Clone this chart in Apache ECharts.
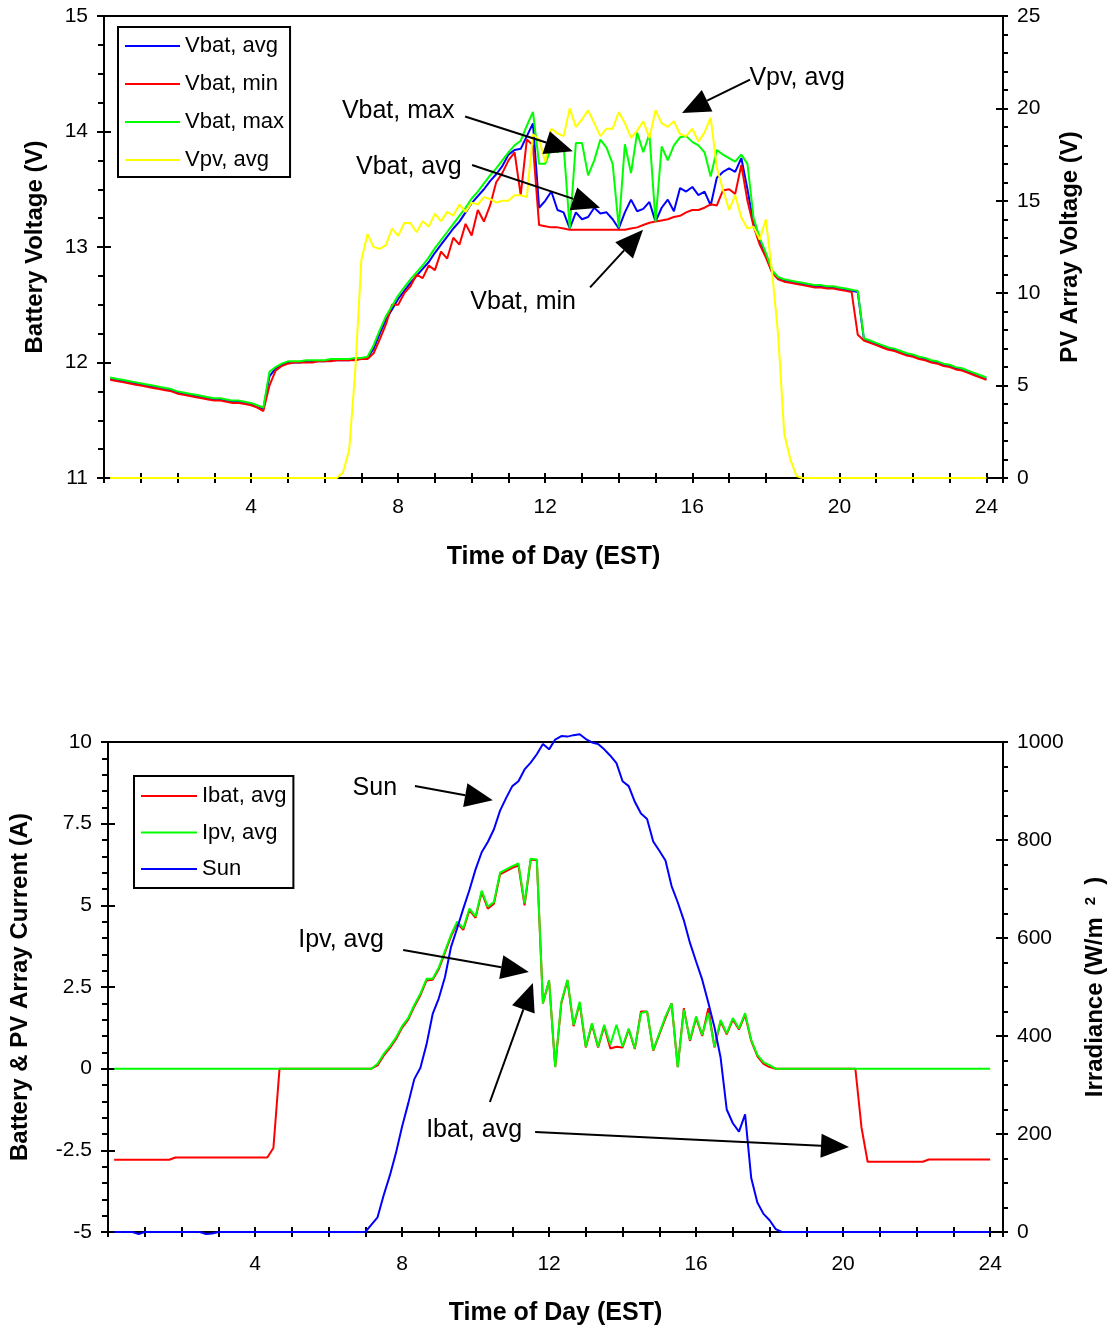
<!DOCTYPE html>
<html>
<head>
<meta charset="utf-8">
<script src="https://cdn.jsdelivr.net/npm/echarts@6/dist/echarts.min.js"></script>
<style>html,body{margin:0;padding:0;background:#fff}#c{width:1119px;height:1329px}</style>
</head>
<body>
<div id="c"></div>
<script>
// sample times: every 10 minutes, 0:10 .. 24:00
const times = Array.from({length: 144}, (_, i) => (i + 1) / 6);
const xTickLabels = [4, 8, 12, 16, 20, 24];

// ---- top chart (V) ----
const vbatAvg = [
 11.86,11.85,11.84,11.83,11.82,11.81,
 11.80,11.79,11.78,11.77,11.76,11.74,
 11.73,11.72,11.71,11.70,11.69,11.68,
 11.68,11.67,11.66,11.66,11.65,11.64,
 11.62,11.60,11.88,11.95,11.98,12.00,
 12.00,12.00,12.01,12.01,12.01,12.01,
 12.02,12.02,12.02,12.02,12.03,12.03,
 12.04,12.12,12.25,12.37,12.46,12.55,
 12.62,12.69,12.75,12.81,12.87,12.95,
 13.02,13.09,13.16,13.22,13.30,13.38,
 13.44,13.50,13.57,13.63,13.70,13.80,
 13.84,13.85,13.96,14.07,13.34,13.40,
 13.48,13.32,13.30,13.16,13.30,13.24,
 13.26,13.34,13.29,13.30,13.24,13.16,
 13.30,13.41,13.31,13.33,13.39,13.22,
 13.34,13.41,13.31,13.51,13.48,13.52,
 13.45,13.48,13.36,13.60,13.65,13.68,
 13.65,13.77,13.50,13.20,13.06,12.93,
 12.79,12.73,12.71,12.70,12.69,12.68,
 12.67,12.66,12.66,12.65,12.65,12.64,
 12.63,12.62,12.61,12.20,12.18,12.16,
 12.14,12.12,12.11,12.09,12.07,12.06,
 12.04,12.03,12.01,12.00,11.98,11.97,
 11.95,11.94,11.92,11.90,11.88,11.86
];
const vbatMin = [
 11.85,11.84,11.83,11.82,11.81,11.80,
 11.79,11.78,11.77,11.76,11.75,11.73,
 11.72,11.71,11.70,11.69,11.68,11.67,
 11.67,11.66,11.65,11.65,11.64,11.63,
 11.61,11.58,11.80,11.93,11.97,11.99,
 12.00,12.00,12.00,12.00,12.01,12.01,
 12.01,12.02,12.02,12.02,12.02,12.03,
 12.03,12.08,12.20,12.33,12.50,12.50,
 12.60,12.66,12.76,12.73,12.84,12.80,
 12.96,12.90,13.08,13.02,13.20,13.10,
 13.32,13.22,13.36,13.56,13.64,13.75,
 13.82,13.45,13.93,13.88,13.19,13.18,
 13.17,13.17,13.16,13.15,13.15,13.15,
 13.15,13.15,13.15,13.15,13.15,13.15,
 13.15,13.16,13.17,13.19,13.21,13.22,
 13.23,13.24,13.26,13.27,13.30,13.32,
 13.32,13.34,13.37,13.36,13.49,13.50,
 13.46,13.71,13.40,13.18,13.02,12.91,
 12.78,12.72,12.70,12.69,12.68,12.67,
 12.66,12.65,12.65,12.64,12.64,12.63,
 12.62,12.61,12.24,12.19,12.17,12.15,
 12.13,12.11,12.10,12.08,12.06,12.05,
 12.03,12.02,12.00,11.99,11.97,11.96,
 11.94,11.93,11.91,11.89,11.87,11.85
];
const vbatMax = [
 11.87,11.86,11.85,11.84,11.83,11.82,
 11.81,11.80,11.79,11.78,11.77,11.75,
 11.74,11.73,11.72,11.71,11.70,11.69,
 11.69,11.68,11.67,11.67,11.66,11.65,
 11.63,11.61,11.92,11.96,11.99,12.01,
 12.01,12.01,12.02,12.02,12.02,12.02,
 12.03,12.03,12.03,12.03,12.04,12.04,
 12.05,12.15,12.28,12.40,12.49,12.58,
 12.65,12.72,12.78,12.84,12.91,12.99,
 13.06,13.13,13.20,13.27,13.34,13.42,
 13.48,13.55,13.62,13.68,13.75,13.82,
 13.88,13.92,14.05,14.17,13.72,13.72,
 13.86,13.82,13.88,13.16,13.90,13.90,
 13.62,13.75,13.93,13.86,13.72,13.17,
 13.89,13.64,13.99,13.82,13.98,13.22,
 13.87,13.75,13.88,13.95,13.96,13.91,
 13.88,13.82,13.61,13.84,13.80,13.77,
 13.74,13.80,13.72,13.25,13.08,12.95,
 12.80,12.74,12.72,12.71,12.70,12.69,
 12.68,12.67,12.67,12.66,12.66,12.65,
 12.64,12.63,12.62,12.21,12.19,12.17,
 12.15,12.13,12.12,12.10,12.08,12.07,
 12.05,12.04,12.02,12.01,11.99,11.98,
 11.96,11.95,11.93,11.91,11.89,11.87
];
const vpvAvg = [
 0,0,0,0,0,0, 0,0,0,0,0,0, 0,0,0,0,0,0,
 0,0,0,0,0,0, 0,0,0,0,0,0, 0,0,0,0,0,0,
 0,0,0.3,1.5,5.8,11.8,
 13.2,12.5,12.4,12.6,13.5,13.1,
 13.8,13.8,13.3,13.9,13.6,14.3,
 13.9,14.4,14.2,14.8,14.4,14.9,
 14.8,15.2,15.1,14.9,15.0,15.0,
 15.3,15.3,15.2,18.6,18.3,17.1,
 18.9,18.65,18.5,20.0,19.0,19.4,
 19.9,19.2,18.5,18.9,18.9,19.8,
 19.2,18.4,18.8,19.3,18.4,19.9,
 19.2,19.0,19.3,18.6,18.5,18.9,
 18.2,18.7,19.5,16.8,15.6,14.5,
 15.3,14.1,13.5,13.6,12.9,14.0,
 11.2,7.8,2.4,1.0,0.1,0,
 0,0,0,0,0,0, 0,0,0,0,0,0, 0,0,0,0,0,0,
 0,0,0,0,0,0, 0,0,0,0,0,0
];

// ---- bottom chart (A, W/m2) ----
const ibatAvg = [
 -2.79,-2.79,-2.79,-2.79,-2.79,-2.79,
 -2.79,-2.79,-2.79,-2.79,-2.72,-2.72,
 -2.72,-2.72,-2.72,-2.72,-2.72,-2.72,
 -2.72,-2.72,-2.72,-2.72,-2.72,-2.72,
 -2.72,-2.72,-2.43,0,0,0,
 0,0,0,0,0,0,
 0,0,0,0,0,0,
 0.0,0.1,0.4,0.63,0.9,1.25,
 1.5,1.9,2.25,2.7,2.72,3.05,
 3.55,4.05,4.45,4.25,4.85,4.62,
 5.4,4.9,5.05,5.95,6.05,6.15,
 6.22,5.0,6.4,6.38,2.0,2.7,
 0.05,2.0,2.7,1.3,2.0,0.65,
 1.35,0.65,1.3,0.62,0.67,0.65,
 1.2,0.6,1.75,1.75,0.55,1.05,
 1.55,2.0,0.05,1.85,0.85,1.55,
 1.0,1.85,0.65,1.45,1.05,1.5,
 1.2,1.65,0.85,0.38,0.15,0.05,
 0,0,0,0,0,0,
 0,0,0,0,0,0,
 0,0,-1.8,-2.85,-2.85,-2.85,
 -2.85,-2.85,-2.85,-2.85,-2.85,-2.85,
 -2.85,-2.78,-2.78,-2.78,-2.78,-2.78,
 -2.78,-2.78,-2.78,-2.78,-2.78,-2.78
];
const ipvAvg = [
 0,0,0,0,0,0, 0,0,0,0,0,0, 0,0,0,0,0,0,
 0,0,0,0,0,0, 0,0,0,0,0,0, 0,0,0,0,0,0,
 0,0,0,0,0,0,
 0.0,0.15,0.45,0.68,0.95,1.3,
 1.55,1.95,2.3,2.75,2.75,3.1,
 3.6,4.1,4.5,4.3,4.9,4.66,
 5.45,4.96,5.1,6.0,6.1,6.2,
 6.28,5.06,6.43,6.4,2.0,2.7,
 0.05,2.05,2.72,1.34,2.05,0.67,
 1.39,0.67,1.34,0.73,1.34,0.67,
 1.23,0.62,1.7,1.75,0.57,1.08,
 1.6,2.0,0.05,1.8,0.88,1.6,
 1.03,1.7,0.67,1.49,1.08,1.55,
 1.23,1.7,0.88,0.42,0.2,0.11,
 0,0,0,0,0,0,
 0,0,0,0,0,0, 0,0,0,0,0,0, 0,0,0,0,0,0,
 0,0,0,0,0,0, 0,0,0,0,0,0
];
const sun = [
 0,0,0,0,-4,0,
 0,0,0,0,0,0,
 0,0,0,-4,-3,0,
 0,0,0,0,0,0, 0,0,0,0,0,0, 0,0,0,0,0,0, 0,0,0,0,0,0,
 15,30,75,115,161,215,
 262,312,335,383,445,477,
 520,582,620,660,698,740,
 775,796,822,860,886,910,
 920,944,958,975,996,985,
 1005,1012,1011,1014,1016,1006,
 999,996,985,972,957,920,
 910,878,854,843,797,778,
 758,706,673,636,590,552,
 515,468,418,356,250,222,
 205,240,110,60,37,24,
 6,0,0,0,0,0,
 0,0,0,0,0,0, 0,0,0,0,0,0, 0,0,0,0,0,0,
 0,0,0,0,0,0, 0,0,0,0,0,0
];

const FONT = 'Liberation Sans, Arial, sans-serif';
const BLACK = '#000';
const pair = arr => times.map((t, i) => [t, arr[i]]);

function xAxes(grid, max, labelMargin, nameGap) {
  const base = {
    gridIndex: grid, type: 'value', min: 0, max: max, interval: 1,
    splitLine: {show: false}
  };
  return [
    Object.assign({}, base, {
      position: 'bottom',
      axisLine: {show: true, onZero: false, lineStyle: {color: BLACK, width: 2}},
      axisTick: {show: true, inside: false, length: 5, lineStyle: {color: BLACK, width: 2}},
      axisLabel: {
        show: true, interval: 0, margin: labelMargin, color: BLACK, fontSize: 21, fontFamily: FONT,
        formatter: v => (xTickLabels.indexOf(Math.round(v * 1000) / 1000) >= 0 ? String(v) : '')
      },
      name: 'Time of Day (EST)', nameLocation: 'middle', nameGap: nameGap,
      nameTextStyle: {color: BLACK, fontSize: 25, fontWeight: 'bold', fontFamily: FONT}
    }),
    Object.assign({}, base, {
      position: 'bottom',
      axisLine: {show: false, onZero: false},
      axisTick: {show: true, inside: true, length: 5, lineStyle: {color: BLACK, width: 2}},
      axisLabel: {show: false}
    })
  ];
}

function yAxes(grid, pos, min, max, interval, minorSplit, outLen, inLen, minorLen, labelMargin, name, nameGap, nameStyleExtra) {
  const base = {
    gridIndex: grid, type: 'value', position: pos, min: min, max: max, interval: interval,
    splitLine: {show: false}
  };
  return [
    Object.assign({}, base, {
      axisLine: {show: true, onZero: false, lineStyle: {color: BLACK, width: 2}},
      axisTick: {show: true, inside: false, length: outLen, lineStyle: {color: BLACK, width: 2}},
      minorTick: {show: true, splitNumber: minorSplit, length: minorLen, lineStyle: {color: BLACK, width: 2}},
      minorSplitLine: {show: false},
      axisLabel: {show: true, margin: labelMargin, color: BLACK, fontSize: 21, fontFamily: FONT,
        formatter: v => String(v)},
      name: name, nameLocation: 'middle', nameGap: nameGap, nameRotate: 90,
      nameTextStyle: Object.assign({color: BLACK, fontSize: 24, fontWeight: 'bold', fontFamily: FONT}, nameStyleExtra || {})
    }),
    Object.assign({}, base, {
      axisLine: {show: false, onZero: false},
      axisTick: {show: true, inside: true, length: inLen, lineStyle: {color: BLACK, width: 2}},
      axisLabel: {show: false}
    })
  ];
}

const chart = echarts.init(document.getElementById('c'), null, {renderer: 'canvas'});

const option = {
  animation: false,
  backgroundColor: '#fff',
  textStyle: {fontFamily: FONT},
  grid: [
    {left: 104, top: 16, width: 899, height: 462, show: true, borderColor: BLACK, borderWidth: 2, backgroundColor: 'transparent'},
    {left: 108, top: 742, width: 895, height: 490, show: true, borderColor: BLACK, borderWidth: 2, backgroundColor: 'transparent'}
  ],
  xAxis: [].concat(
    xAxes(0, 24.45, 19, 67),
    xAxes(1, 24.35, 22, 69)
  ),
  yAxis: [].concat(
    yAxes(0, 'left', 11, 15, 1, 4, 7, 7, 6, 16, 'Battery Voltage (V)', 57),
    yAxes(0, 'right', 0, 25, 5, 5, 5, 7, 5, 14, 'PV Array Voltage (V)', 55),
    yAxes(1, 'left', -5, 10, 2.5, 5, 7, 7, 6, 16, 'Battery & PV Array Current (A)', 76),
    yAxes(1, 'right', 0, 1000, 200, 4, 5, 7, 5, 14,
      '{t|Irradiance (W/m}{g|}{s|2}{g|}{t|)}', 80,
      {rich: {
        t: {fontSize: 24, fontWeight: 'bold', fontFamily: FONT, color: BLACK},
        g: {width: 12},
        s: {fontSize: 15, fontWeight: 'bold', fontFamily: FONT, color: BLACK, verticalAlign: 'top', padding: [0, 0, 10, 0]}
      }})
  ),
  legend: [
    {
      data: ['Vbat, avg', 'Vbat, min', 'Vbat, max', 'Vpv, avg'],
      orient: 'vertical', left: 118, top: 27, icon: 'rect', itemWidth: 55, itemHeight: 2, itemGap: 16,
      padding: [8, 6, 6, 7], borderColor: BLACK, borderWidth: 2, backgroundColor: '#fff',
      selectedMode: false,
      textStyle: {color: BLACK, fontSize: 22, lineHeight: 22, fontFamily: FONT}
    },
    {
      data: ['Ibat, avg', 'Ipv, avg', 'Sun'],
      orient: 'vertical', left: 134, top: 776, icon: 'rect', itemWidth: 56, itemHeight: 2, itemGap: 14.5,
      padding: [9, 7, 8, 7], borderColor: BLACK, borderWidth: 2, backgroundColor: '#fff',
      selectedMode: false,
      textStyle: {color: BLACK, fontSize: 22, lineHeight: 22, fontFamily: FONT}
    }
  ],
  series: [
    {name: 'Vbat, avg', type: 'line', xAxisIndex: 0, yAxisIndex: 0, data: pair(vbatAvg), color: '#0000ff'},
    {name: 'Vbat, min', type: 'line', xAxisIndex: 0, yAxisIndex: 0, data: pair(vbatMin), color: '#ff0000'},
    {name: 'Vbat, max', type: 'line', xAxisIndex: 0, yAxisIndex: 0, data: pair(vbatMax), color: '#00ff00'},
    {name: 'Vpv, avg', type: 'line', xAxisIndex: 0, yAxisIndex: 2, data: pair(vpvAvg), color: '#ffff00'},
    {name: 'Ibat, avg', type: 'line', xAxisIndex: 2, yAxisIndex: 4, data: pair(ibatAvg), color: '#ff0000'},
    {name: 'Ipv, avg', type: 'line', xAxisIndex: 2, yAxisIndex: 4, data: pair(ipvAvg), color: '#00ff00'},
    {name: 'Sun', type: 'line', xAxisIndex: 2, yAxisIndex: 6, data: pair(sun), color: '#0000ff', clip: false}
  ].map(s => Object.assign(s, {
    symbol: 'none', showSymbol: false, lineStyle: {width: 2, color: s.color}, itemStyle: {color: s.color},
    emphasis: {disabled: true}, silent: true
  }))
};

chart.setOption(option);

// annotations, positioned in data coordinates (time, left-axis value)
const annTop = [
  {text: 'Vbat, max', at: [8.0, 14.18], from: [9.82, 14.13], to: [12.75, 13.83]},
  {text: 'Vbat, avg', at: [8.29, 13.69], from: [10.01, 13.71], to: [13.49, 13.34]},
  {text: 'Vbat, min', at: [11.4, 12.52], from: [13.22, 12.65], to: [14.66, 13.15]},
  {text: 'Vpv, avg', at: [18.85, 14.46], from: [17.57, 14.45], to: [15.72, 14.16]}
];
const annBottom = [
  {text: 'Sun', at: [7.26, 8.59], from: [8.35, 8.65], to: [10.47, 8.22]},
  {text: 'Ipv, avg', at: [6.34, 3.94], from: [8.03, 3.63], to: [11.45, 2.96]},
  {text: 'Ibat, avg', at: [9.96, -1.88], from: [10.39, -1.02], to: [11.56, 2.62]},
  {text: null, from: [11.62, -1.94], to: [20.16, -2.40]}
];

function buildAnn(list, xi, yi) {
  const els = [];
  list.forEach(a => {
    const conv = p => chart.convertToPixel({xAxisIndex: xi, yAxisIndex: yi}, p);
    if (a.text) {
      const c = conv(a.at);
      els.push({type: 'text', x: c[0], y: c[1], z: 100,
        style: {text: a.text, fill: BLACK, font: '25px ' + FONT, textAlign: 'center', textVerticalAlign: 'middle'}});
    }
    const p0 = conv(a.from), p1 = conv(a.to);
    const dx = p1[0] - p0[0], dy = p1[1] - p0[1];
    const L = Math.sqrt(dx * dx + dy * dy);
    const ux = dx / L, uy = dy / L, nx = -uy, ny = ux;
    const hl = 28, hw = 12;
    const bx = p1[0] - ux * hl, by = p1[1] - uy * hl;
    els.push({type: 'line', z: 100, shape: {x1: p0[0], y1: p0[1], x2: bx, y2: by},
      style: {stroke: BLACK, lineWidth: 2}});
    els.push({type: 'polygon', z: 100, shape: {points: [[p1[0], p1[1]], [bx + nx * hw, by + ny * hw], [bx - nx * hw, by - ny * hw]]},
      style: {fill: BLACK}});
  });
  return els;
}

chart.setOption({graphic: {elements: buildAnn(annTop, 0, 0).concat(buildAnn(annBottom, 2, 4))}});
</script>
</body>
</html>
